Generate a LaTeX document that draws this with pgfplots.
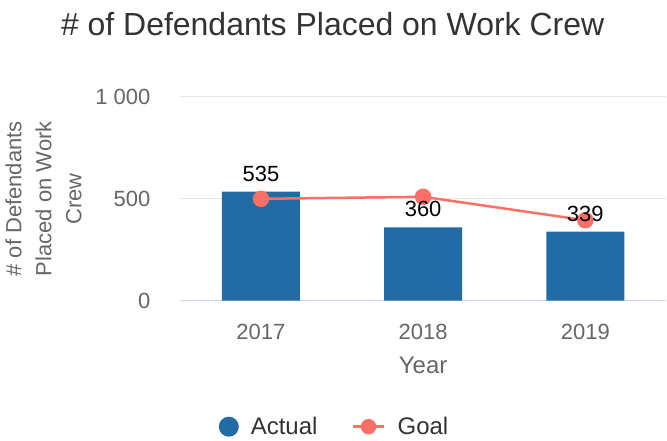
\documentclass[border=0pt]{standalone}
\usepackage{pgfplots}
\pgfplotsset{compat=1.18}
\usepackage{fontspec}
\setmainfont{Liberation Sans}
\definecolor{barblue}{RGB}{34,107,164}
\definecolor{goalred}{RGB}{250,112,102}
\definecolor{tickgray}{RGB}{102,102,102}
\definecolor{titlegray}{RGB}{51,51,51}
\definecolor{gridgray}{RGB}{230,230,230}
\definecolor{baseblue}{RGB}{204,214,235}

\begin{document}
\begin{tikzpicture}
\begin{axis}[
  name=ax,
  scale only axis,
  width=487pt, height=204pt,
  xmin=-0.5, xmax=2.5,
  ymin=0, ymax=1000,
  xtick={0,1,2},
  xticklabels={2017,2018,2019},
  ytick={0,500,1000},
  yticklabels={0,500,1 000},
  axis x line*=bottom,
  axis y line*=left,
  x axis line style={baseblue, line width=1.2pt},
  y axis line style={draw=none},
  ymajorgrids,
  major grid style={gridgray, line width=1pt},
  major tick length=0pt,
  /pgf/number format/assume math mode=true,
  tick label style={font=\fontsize{22}{24}\selectfont, text=tickgray},
  xticklabel style={yshift=-20pt},
  yticklabel style={xshift=-26pt},
  xlabel={Year},
  xlabel style={font=\fontsize{24}{26}\selectfont, text=tickgray, at={(axis description cs:0.5,0)}, anchor=center, yshift=-65pt},
  ylabel={\# of Defendants\\Placed on Work\\Crew},
  ylabel style={font=\fontsize{22}{30}\selectfont, text=tickgray, align=center, at={(axis description cs:-0.28,0.5)}, anchor=center},
  title={\# of Defendants Placed on Work Crew},
  title style={font=\fontsize{32}{36}\selectfont, text=titlegray, at={(axis description cs:0.314,1)}, anchor=base, yshift=55pt},
  legend style={draw=none, at={(axis description cs:0.318,-0.618)}, anchor=center,
    font=\fontsize{24}{26}\selectfont, text=titlegray, legend columns=2,
    /tikz/every odd column/.append style={column sep=10pt},
    /tikz/every even column/.append style={column sep=32pt}},
  legend cell align=left,
]
\addplot[ybar, bar width=78pt, fill=barblue, draw=none,
  legend image code/.code={\fill[barblue] (0.3cm,0) circle (10pt);}]
  coordinates {(0,535) (1,360) (2,339)};
\addlegendentry{Actual}
\addplot[goalred, line width=2.5pt, mark=*, mark size=7pt,
  legend image code/.code={\draw[goalred, line width=3pt] (-0.1cm,0) -- (1.0cm,0); \fill[goalred] (0.45cm,0) circle (6.5pt);}]
  coordinates {(0,500) (1,510) (2,395)};
\addlegendentry{Goal}
% data labels drawn on top of the goal line
\addplot[draw=none, forget plot, nodes near coords,
  every node near coord/.append style={font=\fontsize{22}{24}\selectfont, text=black, anchor=south, inner sep=0pt, yshift=10pt}]
  coordinates {(0,535) (1,360) (2,339)};
\end{axis}
\path ([xshift=-180pt,yshift=-137pt]ax.south west) rectangle ([yshift=97pt]ax.north east);
\end{tikzpicture}
\end{document}
